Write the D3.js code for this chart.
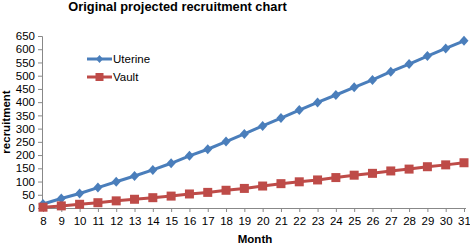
<!DOCTYPE html>
<html><head><meta charset="utf-8">
<script src="https://cdn.jsdelivr.net/npm/d3@7"></script>
<style>body{margin:0;background:#fff}svg{display:block;font-family:"Liberation Sans",Arial,sans-serif}</style>
</head><body>
<script>
const months = [8,9,10,11,12,13,14,15,16,17,18,19,20,21,22,23,24,25,26,27,28,29,30,31];
const uterine = [15,36,55,77,99,121,144,169,197,222,251,280,310,340,370,399,427,456,484,515,544,574,603,632];
const vault = [3,8,14,20,27,33,39,45,53,59,67,74,83,92,99,106,115,124,131,140,147,156,163,171];
const yTicks = [0,50,100,150,200,250,300,350,400,450,500,550,600,650];
const seriesNames = ["Uterine","Vault"];

const W=470,H=245;
const svg=d3.select("body").append("svg").attr("width",W).attr("height",H);
const x=d3.scalePoint().domain(months).range([43,464]);
const y=d3.scaleLinear().domain([0,650]).range([208,36]);

svg.append("text").attr("x",177.5).attr("y",10.5).attr("text-anchor","middle")
  .attr("font-size",12.8).attr("font-weight","bold").text("Original projected recruitment chart");

const ya=svg.append("g").attr("transform","translate(42,0)")
  .call(d3.axisLeft(y).tickValues(yTicks).tickSize(4).tickPadding(3));
ya.select(".domain").attr("stroke","#888");
ya.selectAll(".tick line").attr("stroke","#888");
ya.selectAll("text").attr("font-size",11.5).attr("fill","#000").attr("font-family","Liberation Sans, Arial, sans-serif");

const xa=svg.append("g").attr("transform","translate(0,208)")
  .call(d3.axisBottom(x).tickSize(4).tickPadding(5));
xa.select(".domain").attr("stroke","#888").attr("d","M42,0.5H466");
xa.selectAll(".tick line").attr("stroke","#888");
xa.selectAll("text").attr("font-size",11.5).attr("fill","#000").attr("font-family","Liberation Sans, Arial, sans-serif");

svg.append("text").attr("transform","translate(10,122) rotate(-90)").attr("text-anchor","middle")
  .attr("font-size",11.5).attr("font-weight","bold").text("recruitment");
svg.append("text").attr("x",255).attr("y",243).attr("text-anchor","middle")
  .attr("font-size",11.5).attr("font-weight","bold").text("Month");

const colors=["#4a7ebb","#be4b48"];
const data=[uterine,vault];
const line=d3.line().x((d,i)=>x(months[i])).y(d=>y(d));
data.forEach((vals,k)=>{
  svg.append("path").datum(vals).attr("d",line).attr("fill","none")
    .attr("stroke",colors[k]).attr("stroke-width",3);
});
// markers
svg.append("g").selectAll("path").data(uterine).join("path")
  .attr("transform",(d,i)=>`translate(${x(months[i])},${y(d)})`)
  .attr("d","M0,-5L4.5,0L0,5L-4.5,0Z").attr("fill",colors[0]);
svg.append("g").selectAll("rect").data(vault).join("rect")
  .attr("x",(d,i)=>x(months[i])-4.5).attr("y",d=>y(d)-4.5)
  .attr("width",9).attr("height",9).attr("fill",colors[1]);

// legend
const lg=svg.append("g");
seriesNames.forEach((n,k)=>{
  const ly=59+k*18;
  lg.append("line").attr("x1",87).attr("x2",112).attr("y1",ly).attr("y2",ly)
    .attr("stroke",colors[k]).attr("stroke-width",3);
  if(k===0) lg.append("path").attr("transform",`translate(99.5,${ly})`).attr("d","M0,-4L3.5,0L0,4L-3.5,0Z").attr("fill",colors[k]);
  else lg.append("rect").attr("x",95.5).attr("y",ly-4).attr("width",8).attr("height",8).attr("fill",colors[k]);
  lg.append("text").attr("x",113).attr("y",ly+4).attr("font-size",11.5).text(n);
});
</script>
</body></html>
